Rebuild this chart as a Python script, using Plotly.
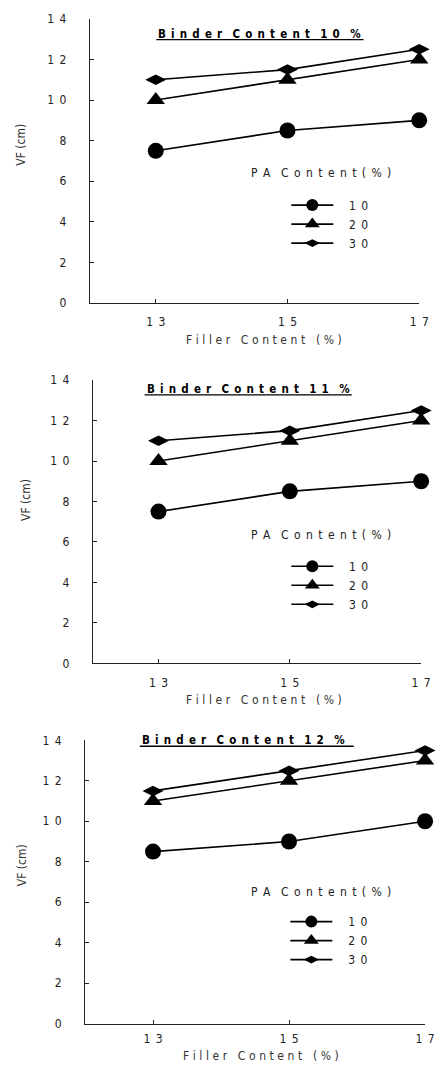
import plotly.graph_objects as go

W, H = 438, 1075

# ---------------- data ----------------
filler = [13, 15, 17]
x_ticks = [13, 15, 17]
y_ticks = [0, 2, 4, 6, 8, 10, 12, 14]
pa_levels = [10, 20, 30]
binder_levels = [10, 11, 12]

# VF (cm) for binder 10 %
b10_pa10 = [7.5, 8.5, 9.0]
b10_pa20 = [10.0, 11.0, 12.0]
b10_pa30 = [11.0, 11.5, 12.5]
# binder 11 %
b11_pa10 = [7.5, 8.5, 9.0]
b11_pa20 = [10.0, 11.0, 12.0]
b11_pa30 = [11.0, 11.5, 12.5]
# binder 12 %
b12_pa10 = [8.5, 9.0, 10.0]
b12_pa20 = [11.0, 12.0, 13.0]
b12_pa30 = [11.5, 12.5, 13.5]

panels = [
    [b10_pa10, b10_pa20, b10_pa30],
    [b11_pa10, b11_pa20, b11_pa30],
    [b12_pa10, b12_pa20, b12_pa30],
]

symbols = ["circle", "triangle-up", "diamond-wide"]
sizes = [16, 16, 15]
leg_sizes = [12, 13, 11]

FONT = "DejaVu Sans Condensed, Liberation Sans Narrow, Arial Narrow, Liberation Sans, sans-serif"
EN = "\u2002"
TPS = "\u2004"


def spaced(s, gap=EN, wgap=EN + EN):
    words = str(s).split(" ")
    return wgap.join(gap.join(w) for w in words)


def digits(v):
    return EN.join(str(v))


def px(x):
    return x / W


def py(y):
    return 1 - y / H


# pixel layout of each panel (page pixels)
geo = [
    dict(box=(92, 429, 12, 300), title=(160, 372, 27, 33), ylab=(22, 139),
         xlab=(270, 337), legt=(328, 168), leg=(293, 186), xstand=8),
    dict(box=(95, 431, 378, 665), title=(148, 360, 387, 393), ylab=(26, 499),
         xlab=(270, 702), legt=(329, 535), leg=(293, 552), xstand=8),
    dict(box=(87, 435, 743, 1030), title=(143, 362, 743, 749), ylab=(22, 869),
         xlab=(267, 1063), legt=(328, 897), leg=(292, 912), xstand=4),
]

fig = go.Figure()
annotations = []
shapes = []
layout = {}

for i, (series, g) in enumerate(zip(panels, geo)):
    n = "" if i == 0 else str(i + 1)
    xl, xr, yt, yb = g["box"]
    xa = "x" + n
    ya = "y" + n
    leg = "legend" + n
    for j, vals in enumerate(series):
        fig.add_trace(go.Scatter(
            x=filler, y=vals, mode="lines+markers", showlegend=False,
            name=digits(pa_levels[j]),
            line=dict(color="black", width=1.6),
            marker=dict(symbol=symbols[j], size=sizes[j], color="black"),
            xaxis=xa, yaxis=ya, cliponaxis=False,
        ))
    # legend entries (no data points, legend key only)
    for j in range(len(series)):
        fig.add_trace(go.Scatter(
            x=[None], y=[None], mode="lines+markers", showlegend=True,
            name=EN + EN + digits(pa_levels[j]),
            line=dict(color="black", width=1.6),
            marker=dict(symbol=symbols[j], size=leg_sizes[j], color="black"),
            xaxis=xa, yaxis=ya, legend=leg,
        ))
    axis_common = dict(
        showline=True, linecolor="#222", linewidth=1,
        ticks="inside", ticklen=4, tickcolor="#222",
        showgrid=False, zeroline=False, ticklabeloverflow="allow",
        tickfont=dict(family=FONT, size=12, color="#222"),
    )
    layout["xaxis" + n] = dict(
        domain=[px(xl), px(xr)], range=[12, 17], anchor=ya,
        tickmode="array", tickvals=x_ticks, ticktext=[digits(v) for v in x_ticks],
        ticklabelstandoff=g["xstand"], **axis_common,
    )
    layout["yaxis" + n] = dict(
        domain=[py(yb), py(yt)], range=[0, 14], anchor=xa,
        tickmode="array", tickvals=y_ticks, ticktext=[digits(v) for v in y_ticks],
        ticklabelstandoff=20, **axis_common,
    )
    lx, ly = g["leg"]
    layout[leg] = dict(
        x=px(lx), y=py(ly), xanchor="left", yanchor="top",
        bgcolor="rgba(0,0,0,0)", itemwidth=42,
        font=dict(family=FONT, size=12, color="#222"),
    )
    # legend title
    tx, ty = g["legt"]
    annotations.append(dict(
        text=spaced("PA Content(%)"), xref="paper", yref="paper",
        x=px(tx), y=py(ty), xanchor="center", yanchor="middle", showarrow=False,
        font=dict(family=FONT, size=12, color="#222"),
    ))
    # panel title + underline
    t0, t1, ty, uy = g["title"]
    annotations.append(dict(
        text="<b>" + spaced("Binder Content %d %%" % binder_levels[i]) + "</b>",
        xref="paper", yref="paper", x=px(t0), y=py(ty),
        xanchor="left", yanchor="middle", showarrow=False,
        font=dict(family=FONT, size=11.5, color="black"),
    ))
    shapes.append(dict(type="line", xref="paper", yref="paper",
                       x0=px(t0), x1=px(t1), y0=py(uy), y1=py(uy),
                       line=dict(color="black", width=1.3)))
    # y label
    yx, yy = g["ylab"]
    annotations.append(dict(
        text="VF (cm)", xref="paper", yref="paper", x=px(yx), y=py(yy),
        xanchor="center", yanchor="middle", textangle=-90, showarrow=False,
        font=dict(family=FONT, size=12, color="#333"),
    ))
    # x label
    xx, xy = g["xlab"]
    annotations.append(dict(
        text=spaced("Filler Content (%)", gap=TPS), xref="paper", yref="paper",
        x=px(xx), y=py(xy), xanchor="center", yanchor="middle",
        showarrow=False, font=dict(family=FONT, size=12, color="#333"),
    ))

fig.update_layout(
    width=W, height=H, margin=dict(l=0, r=0, t=0, b=0),
    paper_bgcolor="white", plot_bgcolor="white",
    annotations=annotations, shapes=shapes, **layout,
)

fig.write_html("out.html", config={"displayModeBar": False},
               post_script="document.body.style.margin='0px';")
